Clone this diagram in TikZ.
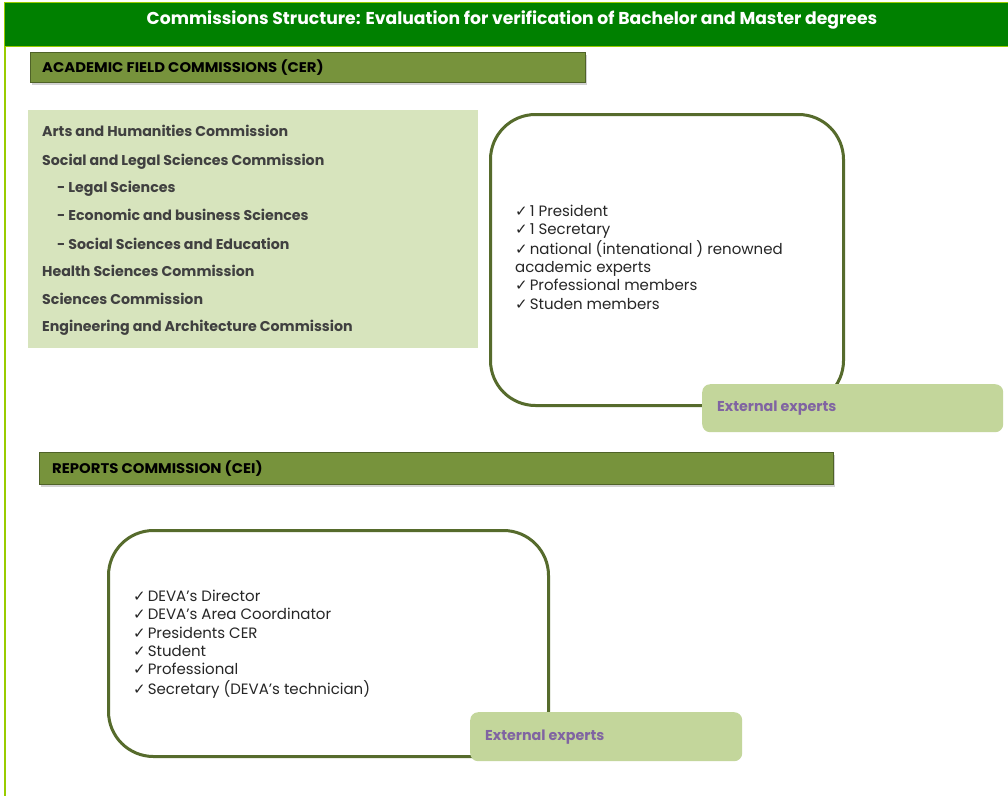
\documentclass[tikz,border=0pt]{standalone}
\usepackage{fontspec}
\setmainfont{Poppins}
\newfontfamily\dejavu{DejaVu Sans}
\usetikzlibrary{shadows}
\definecolor{titlegreen}{HTML}{008000}
\definecolor{limeline}{HTML}{99CC00}
\definecolor{headgreen}{HTML}{77933C}
\definecolor{headborder}{HTML}{4F6228}
\definecolor{boxborder}{HTML}{566B2C}
\definecolor{palegreen}{HTML}{D7E4BD}
\definecolor{midgreen}{HTML}{C3D69B}
\definecolor{expertpurple}{HTML}{8064A2}
\definecolor{textgray}{HTML}{404040}
\newcommand\chkmark{{\dejavu\bfseries ✓}\kern2pt}
\newcommand\hstretch[1]{\scalebox{1.06}[1]{#1}}
\tikzset{
  titlebar/.style={fill=titlegreen, draw=limeline, line width=1.2pt, anchor=north west, inner sep=0pt},
  titletextstyle/.style={inner sep=0pt, text=white, font=\fontsize{17.2}{20}\selectfont\bfseries},
  header/.style={fill=headgreen, draw=headborder, line width=0.6pt, anchor=north west, inner sep=0pt,
    drop shadow={opacity=0.35, shadow xshift=2pt, shadow yshift=-3pt}},
  headtext/.style={anchor=west, inner sep=0pt, text=black, font=\fontsize{14}{16}\selectfont\bfseries},
  fieldbox/.style={fill=palegreen, anchor=north west, inner sep=0pt},
  fieldtext/.style={anchor=base west, inner sep=0pt, text=textgray, font=\fontsize{14.2}{17}\selectfont\bfseries},
  memberbox/.style={draw=boxborder, line width=3pt, rounded corners=45pt, anchor=north west, inner sep=0pt, fill=white},
  membertext/.style={anchor=base west, inner sep=0pt, text=black!85, font=\fontsize{15}{18}\selectfont},
  expertbox/.style={fill=midgreen, rounded corners=8pt, anchor=north west, inner sep=0pt},
  experttext/.style={anchor=west, inner sep=0pt, text=expertpurple, font=\fontsize{14.3}{17}\selectfont\bfseries},
}
\begin{document}
\begin{tikzpicture}[x=1pt,y=-1pt]
\useasboundingbox (0,0) rectangle (1008,796);
\fill[white] (0,0) rectangle (1008,796);
\draw[limeline, line width=1.5pt] (5,40) -- (5,796);
% title
\node[titlebar, minimum width=1010pt, minimum height=44pt] (title) at (4,2) {};
\node[titletextstyle] (titletext) at (512,20) {Commissions Structure: Evaluation for verification of Bachelor and Master degrees};
% CER header
\node[header, minimum width=555pt, minimum height=30pt] (cer) at (30,52) {};
\node[headtext] (certext) at (42,68) {\hstretch{ACADEMIC FIELD COMMISSIONS (CER)}};
% fields
\node[fieldbox, minimum width=450pt, minimum height=238pt] (fields) at (28,110) {};
\node[fieldtext] (f1) at (42,136) {Arts and Humanities Commission};
\node[fieldtext] (f2) at (42,165) {Social and Legal Sciences Commission};
\node[fieldtext] (f3) at (57,192) {- Legal Sciences};
\node[fieldtext] (f4) at (57,220) {- Economic and business Sciences};
\node[fieldtext] (f5) at (57,249) {- Social Sciences and Education};
\node[fieldtext] (f6) at (42,276) {Health Sciences Commission};
\node[fieldtext] (f7) at (42,304) {Sciences Commission};
\node[fieldtext] (f8) at (42,331) {Engineering and Architecture Commission};
% CER members
\node[memberbox, minimum width=353pt, minimum height=291pt] (cerbox) at (489,113) {};
\node[membertext] (m1) at (515,216) {\chkmark 1 President};
\node[membertext] (m2) at (515,234.5) {\chkmark 1 Secretary};
\node[membertext] (m3) at (515,254) {\chkmark national (intenational ) renowned};
\node[membertext] (m4) at (515,272.5) {academic experts};
\node[membertext] (m5) at (515,290.5) {\chkmark Professional members};
\node[membertext] (m6) at (515,309) {\chkmark Studen members};
\node[expertbox, minimum width=301pt, minimum height=48pt] (ext1) at (702,384) {};
\node[experttext] (ext1text) at (717,408.5) {External experts};
% CEI header
\node[header, minimum width=794pt, minimum height=32pt] (cei) at (39,452) {};
\node[headtext] (ceitext) at (52,469) {\hstretch{REPORTS COMMISSION (CEI)}};
% CEI members
\node[memberbox, minimum width=440pt, minimum height=226pt] (ceibox) at (107,529) {};
\node[membertext] (c1) at (133,601) {\chkmark DEVA's Director};
\node[membertext] (c2) at (133,619) {\chkmark DEVA's Area Coordinator};
\node[membertext] (c3) at (133,638) {\chkmark Presidents CER};
\node[membertext] (c4) at (133,656) {\chkmark Student};
\node[membertext] (c5) at (133,674) {\chkmark Professional};
\node[membertext] (c6) at (133,694) {\chkmark Secretary (DEVA's technician)};
\node[expertbox, minimum width=272pt, minimum height=49pt] (ext2) at (470,712) {};
\node[experttext] (ext2text) at (485,737.5) {External experts};
\end{tikzpicture}
\end{document}
